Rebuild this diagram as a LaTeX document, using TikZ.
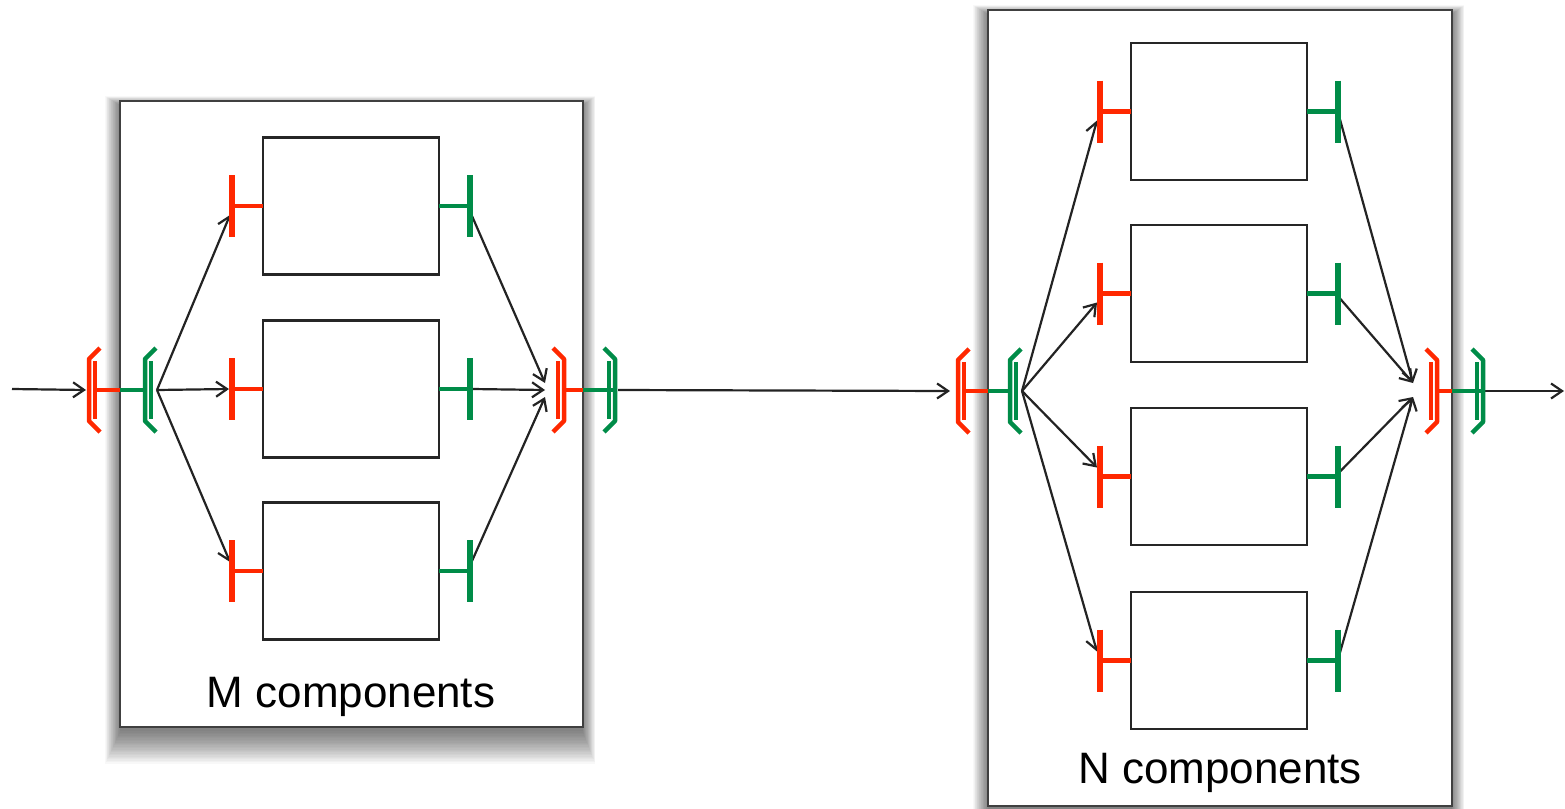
\documentclass[tikz,border=0pt]{standalone}
\usepackage{fontspec}
\setmainfont{Liberation Sans}
\usetikzlibrary{arrows.meta,calc}

\definecolor{portred}{RGB}{255,40,0}
\definecolor{portgreen}{RGB}{0,140,72}
\definecolor{wire}{RGB}{35,35,35}

\tikzset{
  group/.style={draw=black!75, line width=2.5pt, fill=white, inner sep=0pt, outer sep=0pt,
    minimum width=#1},
  comp/.style={draw=black!85, line width=2.5pt, fill=white, inner sep=0pt, outer sep=0pt,
    minimum width=176pt, minimum height=137pt},
  redport/.style={draw=portred, line width=5.5pt},
  greenport/.style={draw=portgreen, line width=5.5pt},
  conn/.style={draw=wire, line width=2.2pt, -{Straight Barb[length=11pt,width=15pt,line width=2.2pt]}},
  label/.style={anchor=base, inner sep=0pt, font=\fontsize{44}{50}\selectfont},
  % a compound port drawn as a double-stroked bracket opening to the right
  bracket/.pic={
    \draw[line width=4.5pt, line join=round, pic actions] (12,-42) -- (1,-31) -- (1,31) -- (12,42);
    \draw[line width=4pt, pic actions] (7,-29) -- (7,29);
  }
}

\begin{document}
\begin{tikzpicture}[x=1pt, y=-1pt]
\useasboundingbox (0,0) rectangle (1565,808);

% soft drop shadows behind the two groups
\foreach \i in {1,...,24}{
  \fill[black, opacity=0.028] ({121-\i*0.65}, {106-\i*0.4}) rectangle ({582+\i*0.55}, {730+\i*1.4});
  \fill[black, opacity=0.028] ({989-\i*0.65}, {15-\i*0.4}) rectangle ({1451+\i*0.55}, {809+\i*1.4});
}

% groups
\node[group=463pt, minimum height=626pt] (Mbox) at (351.5,414) {};
\node[group=464pt, minimum height=796pt] (Nbox) at (1220,408) {};

% components
\node[comp] (M1) at (351,206) {};
\node[comp] (M2) at (351,389) {};
\node[comp] (M3) at (351,571) {};
\node[comp] (N1) at (1219,111.5) {};
\node[comp] (N2) at (1219,293.5) {};
\node[comp] (N3) at (1219,476.5) {};
\node[comp] (N4) at (1219,660.5) {};

\node[label] (Mlabel) at (351,707) {M components};
\node[label] (Nlabel) at (1220,783) {N components};

% free ends of the chain
\coordinate (src) at (12,389);
\coordinate (sink) at (1564,391);

% compound port positions
\coordinate (Mi) at (Mbox.west |- M2.west);
\coordinate (Mo) at (Mbox.east |- M2.east);
\coordinate (MinR) at (88,390);
\coordinate (MinG) at (157,390);
\coordinate (MoutR) at (565,390);
\coordinate (MoutG) at (618,390);
\coordinate (Ni) at (Nbox.west |- N2.west);
\coordinate (No) at (Nbox.east |- N2.east);
\coordinate (NinR) at (957,391);
\coordinate (NinG) at (1022,391);
\coordinate (NoutR) at (1438,391);
\coordinate (NoutG) at (1485,391);

% connectors
\draw[conn] (src) -- ($(MinR)+(-2,0)$);
\draw[conn] (MinG) -- ($(M1.west)+(-33,9)$);
\draw[conn] (MinG) -- ($(M2.west)+(-34,0)$);
\draw[conn] (MinG) -- ($(M3.west)+(-33,-9)$);
\draw[conn] ($(M1.east)+(33,10)$) -- ($(MoutR)+(-20,-7)$);
\draw[conn] ($(M2.east)+(33,0)$) -- ($(MoutR)+(-20,0)$);
\draw[conn] ($(M3.east)+(33,-10)$) -- ($(MoutR)+(-20,7)$);
\draw[conn] (MoutG) -- ($(NinR)+(-7,0)$);
\draw[conn] (NinG) -- ($(N1.west)+(-34,9)$);
\draw[conn] (NinG) -- ($(N2.west)+(-34,9)$);
\draw[conn] (NinG) -- ($(N3.west)+(-34,-9)$);
\draw[conn] (NinG) -- ($(N4.west)+(-34,-9)$);
\draw[conn] ($(N1.east)+(33,8)$) -- ($(NoutR)+(-25,-8)$);
\draw[conn] ($(N2.east)+(33,5)$) -- ($(NoutR)+(-25,-8)$);
\draw[conn] ($(N3.east)+(33,-5)$) -- ($(NoutR)+(-25,6)$);
\draw[conn] ($(N4.east)+(33,-8)$) -- ($(NoutR)+(-25,6)$);
\draw[conn] (NoutG) -- (sink);

% component ports
\foreach \c in {M1,M2,M3,N1,N2,N3,N4}{
  \draw[redport] ($(\c.west)+(-31,-31)$) -- ($(\c.west)+(-31,31)$);
  \draw[redport, line width=4.5pt] ($(\c.west)+(-31,0)$) -- (\c.west);
  \draw[greenport] ($(\c.east)+(31,-31)$) -- ($(\c.east)+(31,31)$);
  \draw[greenport, line width=4.5pt] (\c.east) -- ($(\c.east)+(31,0)$);
}

% compound ports of group M
\pic[draw=portred] at (MinR) {bracket};
\pic[draw=portgreen] at (144,390) {bracket};
\draw[redport, line width=4.5pt] (96,390) -- (Mi |- MinR);
\draw[greenport, line width=4.5pt] (Mi |- MinR) -- (144,390);
\pic[draw=portred, xscale=-1] at (MoutR) {bracket};
\pic[draw=portgreen, xscale=-1] at (616,390) {bracket};
\draw[redport, line width=4.5pt] (MoutR) -- (Mo |- MoutR);
\draw[greenport, line width=4.5pt] (Mo |- MoutR) -- (614,390);

% compound ports of group N
\pic[draw=portred] at (NinR) {bracket};
\pic[draw=portgreen] at (1009,391) {bracket};
\draw[redport, line width=4.5pt] (965,391) -- (Ni |- NinR);
\draw[greenport, line width=4.5pt] (Ni |- NinR) -- (1009,391);
\pic[draw=portred, xscale=-1] at (NoutR) {bracket};
\pic[draw=portgreen, xscale=-1] at (1484,391) {bracket};
\draw[redport, line width=4.5pt] (NoutR) -- (No |- NoutR);
\draw[greenport, line width=4.5pt] (No |- NoutR) -- (1482,391);
\end{tikzpicture}
\end{document}
